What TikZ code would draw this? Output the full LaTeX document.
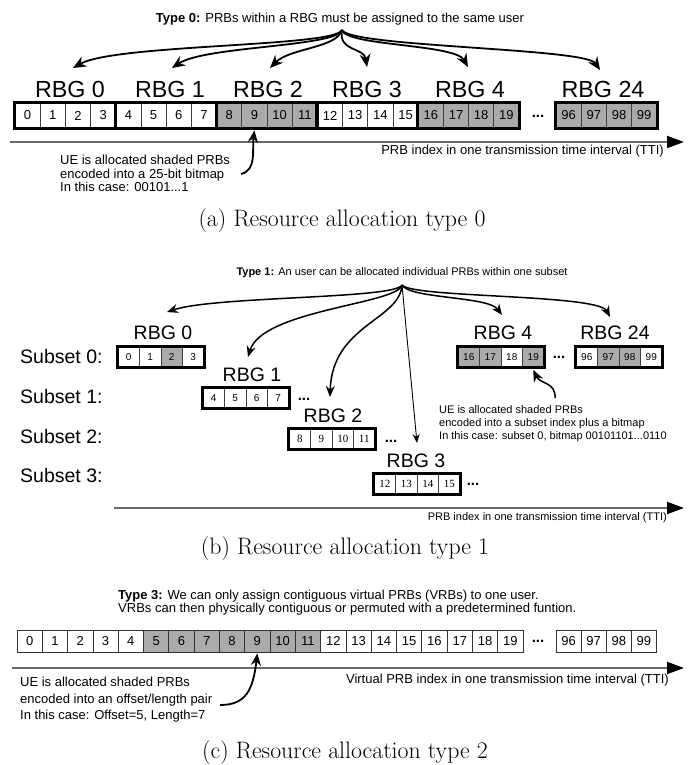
\documentclass[tikz,border=0pt]{standalone}
\usepackage{fontspec}
\newfontfamily\arial{Liberation Sans}
\newfontfamily\tnr{Liberation Serif}
\usetikzlibrary{arrows.meta}
\definecolor{shade}{RGB}{170,170,170}
\definecolor{axisgray}{RGB}{105,105,105}
\newcommand{\fs}[2]{\fontsize{#1}{#2}\selectfont}
\begin{document}
\begin{tikzpicture}[x=1pt,y=-1pt,
  cellA/.style={draw=black!75, line width=0.8pt, minimum width=25.2pt, minimum height=25pt, inner sep=0pt, font=\arial\fs{13}{15}},
  cellB/.style={draw=black!75, line width=0.7pt, minimum width=21.5pt, minimum height=21pt, inner sep=0pt, font=\arial\fs{10}{12}},
  cellBs/.style={cellB, font=\tnr\fs{11}{13}},
  cellC/.style={draw=black!80, line width=0.8pt, minimum width=25.3pt, minimum height=22pt, inner sep=0pt, font=\arial\fs{13}{15}},
  grp/.style={draw=black, line width=3.2pt},
  rbgA/.style={font=\arial\fs{23.3}{27}, inner sep=0pt},
  rbgB/.style={font=\arial\fs{19.5}{23}, inner sep=0pt},
  dots/.style={font=\arial\bfseries\fs{15}{17}, inner sep=0pt},
  small/.style={font=\arial\fs{13}{15}, inner sep=0pt},
  smallB/.style={font=\arial\fs{11}{13}, inner sep=0pt},
  capt/.style={font=\rmfamily\fs{23.8}{28}, inner sep=0pt},
  fanA/.style={line width=1.8pt, -{Stealth[length=13pt,width=11pt]}},
  fanB/.style={line width=1.5pt, -{Stealth[length=11pt,width=9pt]}},
  fanthin/.style={line width=0.9pt, -{Stealth[length=9pt,width=7pt]}},
  ann/.style={line width=1.8pt, -{Stealth[length=12pt,width=10pt]}},
  axis/.style={draw=axisgray, line width=2pt, -{Triangle[length=17pt,width=12pt,color=black]}}
]
\useasboundingbox (0,0) rectangle (688,765);

% ================= (a) =================
\node[small] (titleA) at (340,19) {\textbf{Type 0:} PRBs within a RBG must be assigned to the same user};
\coordinate (fA) at (342,30);

\foreach \g/\x/\f in {0/15/white,1/115.8/white,2/216.6/shade,3/317.4/white,4/418.2/shade}{
  \foreach \c in {0,1,2,3}{
    \pgfmathtruncatemacro\n{4*\g+\c}
    \node[cellA,fill=\f] (a\n) at ({\x+(\c+0.5)*25.2},115.5) {\n};
  }
  \pgfmathtruncatemacro\nfirst{4*\g}
  \pgfmathtruncatemacro\nlast{4*\g+3}
  \draw[grp] (a\nfirst.north west) rectangle (a\nlast.south east);
}
\foreach \c in {0,1,2,3}{
  \pgfmathtruncatemacro\n{96+\c}
  \node[cellA,fill=shade] (a\n) at ({556+(\c+0.5)*25.2},115.5) {\n};
}
\draw[grp] (a96.north west) rectangle (a99.south east);
\node[dots] (dA) at (538,116) {...};

\node[rbgA] (rA0) at (70,89) {RBG 0};
\node[rbgA] (rA1) at (170,89) {RBG 1};
\node[rbgA] (rA2) at (268,89) {RBG 2};
\node[rbgA] (rA3) at (367,89) {RBG 3};
\node[rbgA] (rA4) at (470,89) {RBG 4};
\node[rbgA] (rA24) at (603,89) {RBG 24};

\coordinate (tA0) at (73,68);
\coordinate (tA1) at (172,68);
\coordinate (tA2) at (270,68);
\coordinate (tA3) at (367,67);
\coordinate (tA4) at (468,67);
\coordinate (tA24) at (600,70);
\draw[fanA] (fA) .. controls (336,47) and (115,44) .. (tA0);
\draw[fanA] (fA) .. controls (336,47) and (205,46) .. (tA1);
\draw[fanA] (fA) .. controls (337,48) and (290,48) .. (tA2);
\draw[fanA] (fA) .. controls (338,52) and (364,47) .. (tA3);
\draw[fanA] (fA) .. controls (346,46) and (455,44) .. (tA4);
\draw[fanA] (fA) .. controls (350,47) and (585,48) .. (tA24);

\coordinate (axA0) at (10,142);
\coordinate (axA1) at (684,142);
\draw[axis] (axA0) -- (axA1);
\node[small, anchor=north east] (labA) at (664,145) {PRB index in one transmission time interval (TTI)};

\node[small, anchor=north west, align=left, font={\arial\fs{13}{13.6}}] (noteA) at (60,155)
  {UE is allocated shaded PRBs\\encoded into a 25-bit bitmap\\In this case: 00101...1};
\coordinate (pA) at (241,174);
\draw[ann] (pA) .. controls (257,170) and (252,150) .. ([yshift=-2pt]a9.south);

\node[capt] (captA) at (342,221) {(a) Resource allocation type 0};

% ================= (b) =================
\node[smallB] (titleB) at (402,273) {\textbf{Type 1:} An user can be allocated individual PRBs within one subset};
\coordinate (fB) at (402,285);

\node[rbgB, anchor=west] (s0) at (20,357) {Subset 0:};
\node[rbgB, anchor=west] (s1) at (20,397) {Subset 1:};
\node[rbgB, anchor=west] (s2) at (20,437) {Subset 2:};
\node[rbgB, anchor=west] (s3) at (20,476) {Subset 3:};

\foreach \n/\f [count=\i from 0] in {0/white,1/white,2/shade,3/white}
  \node[cellB,fill=\f] (b\n) at ({118+(\i+0.5)*21.5},357) {\n};
\draw[grp] (b0.north west) rectangle (b3.south east);
\foreach \n/\f [count=\i from 0] in {16/shade,17/shade,18/white,19/shade}
  \node[cellB,fill=\f] (b\n) at ({458+(\i+0.5)*21.5},357) {\n};
\draw[grp] (b16.north west) rectangle (b19.south east);
\foreach \n/\f [count=\i from 0] in {96/white,97/shade,98/shade,99/white}
  \node[cellB,fill=\f] (b\n) at ({576+(\i+0.5)*21.5},357) {\n};
\draw[grp] (b96.north west) rectangle (b99.south east);
\foreach \n [count=\i from 0] in {4,5,6,7}
  \node[cellB] (b\n) at ({203+(\i+0.5)*21.5},398) {\n};
\draw[grp] (b4.north west) rectangle (b7.south east);
\foreach \n [count=\i from 0] in {8,9,10,11}
  \node[cellBs] (b\n) at ({289+(\i+0.5)*21.5},439) {\n};
\draw[grp] (b8.north west) rectangle (b11.south east);
\foreach \n [count=\i from 0] in {12,13,14,15}
  \node[cellBs] (b\n) at ({374+(\i+0.5)*21.5},484) {\n};
\draw[grp] (b12.north west) rectangle (b15.south east);

\node[dots] (dB0) at (559,357) {...};
\node[dots] (dB1) at (304,399) {...};
\node[dots] (dB2) at (391,441) {...};
\node[dots] (dB3) at (473,484) {...};

\node[rbgB] (rB0) at (163,333) {RBG 0};
\node[rbgB] (rB1) at (252,375) {RBG 1};
\node[rbgB] (rB2) at (333,416) {RBG 2};
\node[rbgB] (rB3) at (416,461) {RBG 3};
\node[rbgB] (rB4) at (503,333) {RBG 4};
\node[rbgB] (rB24) at (615,333) {RBG 24};

\coordinate (tB0) at (167,312);
\coordinate (tB1) at (248,357);
\coordinate (tB2) at (330,397);
\coordinate (tB3) at (417,443);
\coordinate (tB4) at (502,315);
\coordinate (tB24) at (610,317);
\draw[fanB] (fB) .. controls (396,299) and (215,296) .. (tB0);
\draw[fanB] (fB) .. controls (398,304) and (262,310) .. (tB1);
\draw[fanB] (fB) .. controls (400,320) and (332,325) .. (tB2);
\draw[fanthin] (fB) -- (tB3);
\draw[fanB] (fB) .. controls (410,299) and (488,296) .. (tB4);
\draw[fanB] (fB) .. controls (412,298) and (598,294) .. (tB24);

\coordinate (axB0) at (114,508);
\coordinate (axB1) at (684,508);
\draw[axis] (axB0) -- (axB1);
\node[smallB, anchor=north east] (labB) at (667,512) {PRB index in one transmission time interval (TTI)};

\node[smallB, anchor=north west, align=left, font={\arial\fs{11}{13}}] (noteB) at (439,405)
  {UE is allocated shaded PRBs\\encoded into a subset index plus a bitmap\\In this case: subset 0, bitmap 00101101...0110};
\coordinate (pB) at (555,398);
\draw[ann, line width=1.5pt] (pB) .. controls (556,382) and (540,384) .. ([yshift=-2pt]b19.south);

\node[capt] (captB) at (345,549) {(b) Resource allocation type 1};

% ================= (c) =================
\node[small, anchor=north west, align=left, font={\arial\fs{13}{12}}] (titleC) at (118,590)
  {\textbf{Type 3:} We can only assign contiguous virtual PRBs (VRBs) to one user.\\VRBs can then physically contiguous or permuted with a predetermined funtion.};

\foreach \n [count=\i from 0] in {0,...,19}{
  \pgfmathsetmacro\f{(\n>4 && \n<12) ? "shade" : "white"}
  \node[cellC,fill=\f] (c\n) at ({17+(\i+0.5)*25.3},641) {\n};
}
\foreach \n [count=\i from 0] in {96,97,98,99}
  \node[cellC] (c\n) at ({556+(\i+0.5)*25.1},641) {\n};
\node[dots] (dC) at (538,641) {...};

\coordinate (axC0) at (12,668);
\coordinate (axC1) at (684,668);
\draw[axis] (axC0) -- (axC1);
\node[small, anchor=north east] (labC) at (669,674) {Virtual PRB index in one transmission time interval (TTI)};

\node[small, anchor=north west, align=left, font={\arial\fs{13}{16.5}}] (noteC) at (20,677)
  {UE is allocated shaded PRBs\\encoded into an offset/length pair\\In this case: Offset=5, Length=7};
\coordinate (pC) at (220,705);
\draw[ann] (pC) .. controls (246,705) and (253,690) .. ([yshift=-1pt]c9.south);

\node[capt] (captC) at (345,753) {(c) Resource allocation type 2};
\end{tikzpicture}
\end{document}
